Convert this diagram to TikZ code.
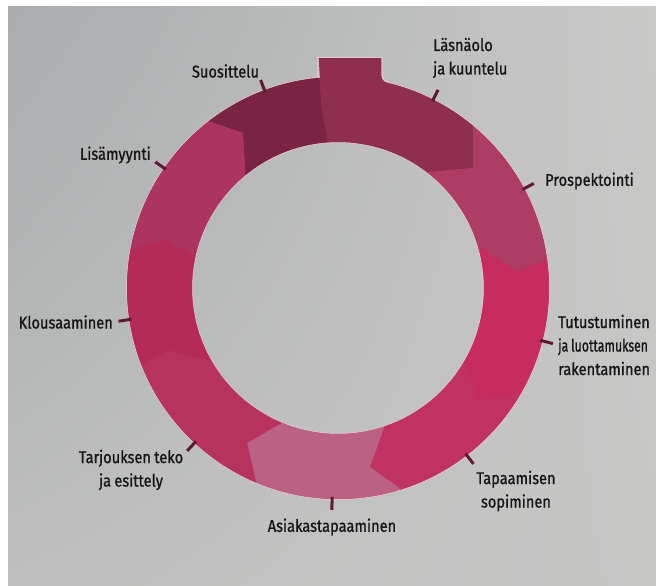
\documentclass[tikz,border=0pt]{standalone}
\usepackage{graphicx}
\usepackage{fontspec}
\setmainfont{Fira Sans}[FakeStretch=0.86, WordSpace=0.85, FakeBold=1]
\usetikzlibrary{calc,shadings}

% paper
\definecolor{bgA}{HTML}{A9ABAD}
\definecolor{bgB}{HTML}{C9CAC8}
\definecolor{bgC}{HTML}{BEBFBE}
\definecolor{bgD}{HTML}{C6C7C5}
% ring segments
\definecolor{cSuo}{HTML}{7A2444}
\definecolor{cLas}{HTML}{8E2F50}
\definecolor{cPro}{HTML}{AD3D65}
\definecolor{cTut}{HTML}{C72C5E}
\definecolor{cTap}{HTML}{C03262}
\definecolor{cAsi}{HTML}{BB6183}
\definecolor{cTar}{HTML}{B6335E}
\definecolor{cKlo}{HTML}{B52B57}
\definecolor{cLis}{HTML}{AB3460}
\definecolor{halo}{HTML}{E6CAD3}
\definecolor{tickcol}{HTML}{5E1934}
\definecolor{labeltext}{HTML}{161616}

% one ring segment between two boundary polylines
\newcommand\segfill[4]{%
  \fill[#1] (#2o2)--(#2o)--(#2v)--(#2i)--(#2i2)--(C)--(#3i2)--(#3i)--(#3v)--(#3o)--(#3o2)--(#4)--cycle;}

\begin{document}
\begin{tikzpicture}[x=1pt,y=-1pt,
  lbl/.style={font=\fontsize{17}{23.5}\selectfont, text=labeltext, inner sep=0pt},
  tickline/.style={draw=tickcol, line width=3pt}]
\useasboundingbox (0,0) rectangle (656,586);

% background paper
\shade[upper left=bgA, upper right=bgB, lower left=bgC, lower right=bgD] (0,0) rectangle (656,586);
\fill[white] (0,0) rectangle (8,586);
\fill[white] (0,0) rectangle (656,6);

\coordinate (C) at (338,288);

% segment boundaries: outer extension, outer, vertex, inner, inner extension
\coordinate (b1o2) at (111,101); \coordinate (b1o) at (205,120); \coordinate (b1v) at (243,133); \coordinate (b1i) at (245,170); \coordinate (b1i2) at (247,207);
\coordinate (b2o2) at (317,20);  \coordinate (b2o) at (318,58);  \coordinate (b2v) at (322,110); \coordinate (b2i) at (328,142); \coordinate (b2i2) at (332,180);
\coordinate (b3o2) at (473,60);  \coordinate (b3o) at (473,126); \coordinate (b3v) at (473,168); \coordinate (b3i) at (430,172); \coordinate (b3i2) at (400,176);
\coordinate (b4o2) at (616,230); \coordinate (b4o) at (550,258); \coordinate (b4v) at (517,272); \coordinate (b4i) at (484,250); \coordinate (b4i2) at (451,228);
\coordinate (b5o2) at (619,376); \coordinate (b5o) at (525,392); \coordinate (b5v) at (478,400); \coordinate (b5i) at (466,360); \coordinate (b5i2) at (454,320);
\coordinate (b6o2) at (475,542); \coordinate (b6o) at (405,492); \coordinate (b6v) at (370,467); \coordinate (b6i) at (385,425); \coordinate (b6i2) at (400,383);
\coordinate (b7o2) at (277,572); \coordinate (b7o) at (257,486); \coordinate (b7v) at (247,443); \coordinate (b7i) at (278,425); \coordinate (b7i2) at (309,407);
\coordinate (b8o2) at (90,395);  \coordinate (b8o) at (142,365); \coordinate (b8v) at (168,350); \coordinate (b8i) at (215,362); \coordinate (b8i2) at (248,370);
\coordinate (b9o2) at (54,270);  \coordinate (b9o) at (128,250); \coordinate (b9v) at (165,240); \coordinate (b9i) at (195,255); \coordinate (b9i2) at (225,270);
% far corners
\coordinate (f1) at (150,-65); \coordinate (f2) at (462,-92); \coordinate (f3) at (688,94);
\coordinate (f4) at (732,357); \coordinate (f5) at (606,585); \coordinate (f6) at (338,688);
\coordinate (f7) at (65,581);  \coordinate (f8) at (-58,344); \coordinate (f9) at (-27,125);

% ring halo
\draw[halo, line width=1.4pt] (C) circle[radius=211pt];
\draw[halo, line width=1.4pt] (C) circle[radius=146pt];

% top tab outline
\draw[halo, line width=1.4pt] (318,82) -- (318,57.5) -- (382,57.5) -- (382,75) .. controls (382,80) and (386,82.5) .. (392,84);

% ring
\begin{scope}
  \clip ($(C)+(211pt,0)$) arc[start angle=0, end angle=360, radius=211pt]
        ($(C)+(146pt,0)$) arc[start angle=0, end angle=-360, radius=146pt];
  \fill[cTar] (C) circle[radius=215pt];
  \segfill{cSuo}{b1}{b2}{f1}
  \segfill{cLas}{b2}{b3}{f2}
  \segfill{cPro}{b3}{b4}{f3}
  \segfill{cTut}{b4}{b5}{f4}
  \segfill{cTap}{b5}{b6}{f5}
  \segfill{cAsi}{b6}{b7}{f6}
  \segfill{cTar}{b7}{b8}{f7}
  \segfill{cKlo}{b8}{b9}{f8}
  \segfill{cLis}{b9}{b1}{f9}
\end{scope}
% top tab
\fill[cLas] (318.7,58.2) -- (381.3,58.2) -- (381.3,75) .. controls (381.3,80.6) and (385.6,83.2) .. (392,84.8) -- (392,95) -- (321,95) -- cycle;

% tick marks
\foreach \n/\a in {1/110.4, 2/63.2, 3/28.1, 4/-14.5, 5/-52.4, 6/-91.6, 7/-132.8, 8/-171.4, 9/145.4}{
  \coordinate (t\n a) at ($(C)+(\a:209pt)$);
  \coordinate (t\n b) at ($(C)+(\a:222pt)$);
}
\foreach \n in {1,...,9}{ \draw[tickline] (t\n a) -- (t\n b); }

% labels
\node[lbl] (suo) at (225.5,71) {Suosittelu};
\node[lbl, anchor=west, align=left] (las) at (433,58) {Läsnäolo\\ja kuuntelu};
\node[lbl, anchor=west] (pro) at (545,181) {Prospektointi};
\node[lbl, anchor=west, align=left] (tut) at (558,345) {Tutustuminen\\\scalebox{0.84}[1]{ja luottamuksen}\\rakentaminen};
\node[lbl, align=center] (tap) at (516,491) {Tapaamisen\\sopiminen};
\node[lbl] (asi) at (332,527) {Asiakastapaaminen};
\node[lbl, align=center] (tar) at (131,470) {Tarjouksen teko\\ja esittely};
\node[lbl, anchor=east] (klo) at (113,322) {Klousaaminen};
\node[lbl, anchor=east] (lis) at (151,155) {Lisämyynti};
\end{tikzpicture}
\end{document}
